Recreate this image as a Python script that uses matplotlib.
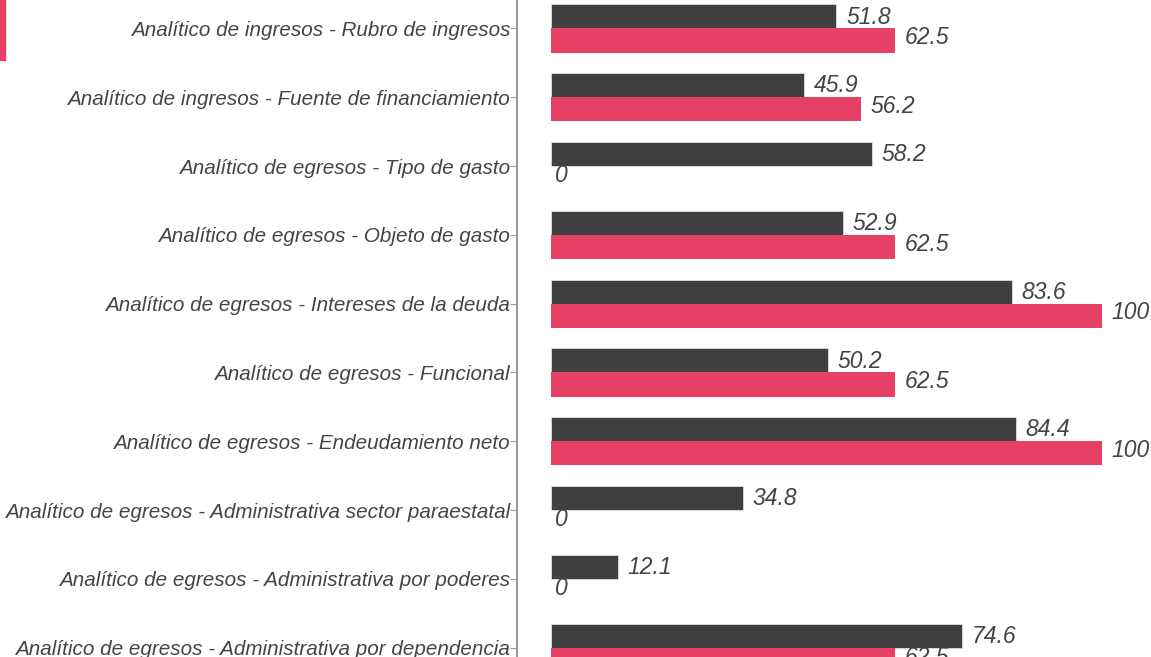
import matplotlib.pyplot as plt
import numpy as np
from matplotlib.patches import Rectangle

plt.rcParams['font.family'] = ['Liberation Sans', 'DejaVu Sans']

# datos del gráfico (de arriba hacia abajo)
categorias = [
    'Analítico de ingresos - Rubro de ingresos',
    'Analítico de ingresos - Fuente de financiamiento',
    'Analítico de egresos - Tipo de gasto',
    'Analítico de egresos - Objeto de gasto',
    'Analítico de egresos - Intereses de la deuda',
    'Analítico de egresos - Funcional',
    'Analítico de egresos - Endeudamiento neto',
    'Analítico de egresos - Administrativa sector paraestatal',
    'Analítico de egresos - Administrativa por poderes',
    'Analítico de egresos - Administrativa por dependencia',
]
serie_gris = [51.8, 45.9, 58.2, 52.9, 83.6, 50.2, 84.4, 34.8, 12.1, 74.6]
serie_rosa = [62.5, 56.2, 0, 62.5, 100, 62.5, 100, 0, 0, 62.5]

gris = '#404040'
rosa = '#E64164'
texto = '#444444'

fig = plt.figure(figsize=(11.51, 6.57), dpi=100)
ax = fig.add_axes([517 / 1151, 0, 1 - 517 / 1151, 1])

y = np.arange(len(categorias))
h = 0.35
ax.barh(y - h / 2, serie_gris, height=h, color=gris, edgecolor='#dddddd', linewidth=0.6)
ax.barh(y + h / 2, serie_rosa, height=h, color=rosa, linewidth=0)

# etiquetas de valores
for i in range(len(categorias)):
    ax.annotate(f'{serie_gris[i]:g}', (serie_gris[i], y[i] - h / 2 + 0.01),
                xytext=(7, 0), textcoords='offset points', va='center', ha='left',
                fontsize=16.5, style='italic', color=texto)
    ax.annotate(f'{serie_rosa[i]:g}', (serie_rosa[i], y[i] + h / 2 - 0.04),
                xytext=(7 if serie_rosa[i] > 0 else 3, 0), textcoords='offset points',
                va='center', ha='left', fontsize=16.5, style='italic', color=texto)

ax.set_yticks(y)
ax.set_yticklabels(categorias, fontsize=14.9, style='italic', color=texto)
ax.set_xlim(-6.2, 108.9)
ax.set_ylim(9.135, -0.414)

for s in ['top', 'right', 'bottom']:
    ax.spines[s].set_visible(False)
ax.spines['left'].set_color('#999999')
ax.spines['left'].set_linewidth(1.5)
ax.tick_params(axis='y', length=5, color='#999999', pad=0)
ax.tick_params(axis='x', bottom=False, labelbottom=False)

# marca de leyenda recortada en la esquina
fig.patches.append(Rectangle((0, 1 - 60 / 657), 5 / 1151, 60 / 657,
                             transform=fig.transFigure, color=rosa))

fig.savefig('out.png', dpi=100)
